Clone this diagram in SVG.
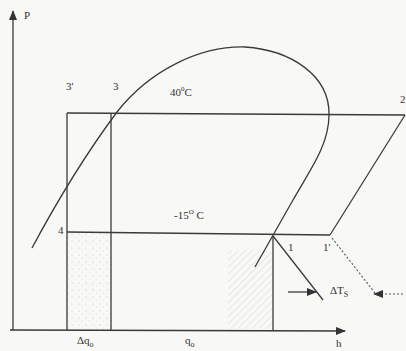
<svg xmlns="http://www.w3.org/2000/svg" width="406" height="351" viewBox="0 0 406 351">
<style>
.ln{fill:none;stroke:#3a3a3a;stroke-width:1.3}
.dsh{fill:none;stroke:#555;stroke-width:1.1;stroke-dasharray:2,2}
text{font-family:"Liberation Serif","Times New Roman",serif;font-size:11px;fill:#333}
</style>
<defs>
<marker id="ah" markerWidth="10" markerHeight="8" refX="9" refY="4" orient="auto" markerUnits="userSpaceOnUse">
<path d="M0,0 L10,4 L0,8 Z" fill="#333"/>
</marker>
<pattern id="hatch" width="5" height="5" patternUnits="userSpaceOnUse" patternTransform="rotate(45)">
<line x1="0" y1="0" x2="0" y2="5" stroke="#999" stroke-width="0.8"/>
</pattern>
<pattern id="dots" width="7" height="7" patternUnits="userSpaceOnUse">
<circle cx="2" cy="3" r="0.5" fill="#999"/>
<circle cx="5.5" cy="6" r="0.4" fill="#aaa"/>
</pattern>
</defs>
<rect width="406" height="351" fill="#f8f8f6"/>
<g id="shading">
<rect x="67" y="233" width="44" height="96" fill="url(#dots)" opacity="0.7"/>
<rect x="228" y="250" width="45" height="79" fill="url(#hatch)" opacity="0.45"/>
</g>
<g id="axes">
<line class="ln" x1="13" y1="330" x2="13" y2="11" marker-end="url(#ah)"/>
<line class="ln" x1="10" y1="330" x2="345" y2="331" marker-end="url(#ah)"/>
<text x="24" y="19">P</text>
<text x="336" y="347">h</text>
</g>
<g id="dome">
<path class="ln" d="M32,248 C55,205 85,155 117,112 C150,70 200,46 245,47 C290,50 330,75 329,115 C329,145 310,170 293,200 L255,267"/>
</g>
<g id="cycle">
<line class="ln" x1="67" y1="113" x2="405" y2="115"/>
<line class="ln" x1="67" y1="113" x2="67" y2="330"/>
<line class="ln" x1="111" y1="113" x2="111" y2="330"/>
<line class="ln" x1="67" y1="232" x2="330" y2="235"/>
<line class="ln" x1="405" y1="115" x2="330" y2="235"/>
<line class="ln" x1="273" y1="236" x2="273" y2="331"/>
</g>
<g id="connectors">
<line class="ln" x1="273" y1="236" x2="323" y2="300" stroke-width="1.1"/>
<line class="dsh" x1="332" y1="238" x2="375" y2="293"/>
<line class="ln" x1="288" y1="292" x2="316" y2="292" stroke-width="1" marker-end="url(#ah)"/>
<line class="dsh" x1="403" y1="294" x2="374" y2="294" marker-end="url(#ah)"/>
</g>
<g id="labels">
<text x="66" y="90">3'</text>
<text x="113" y="90">3</text>
<text x="400" y="103">2</text>
<text x="58" y="234">4</text>
<text x="288" y="251">1</text>
<text x="323" y="251">1'</text>
<text x="170" y="96">40<tspan font-size="7" dy="-5">0</tspan><tspan dy="5">C</tspan></text>
<text x="174" y="219">-15<tspan font-size="7" dy="-5">O</tspan><tspan dy="5"> C</tspan></text>
<text x="330" y="294">ΔT<tspan font-size="8" dy="3">S</tspan></text>
<text x="77" y="344">Δq<tspan font-size="8" dy="3">o</tspan></text>
<text x="185" y="344">q<tspan font-size="8" dy="3">o</tspan></text>
</g>
</svg>
